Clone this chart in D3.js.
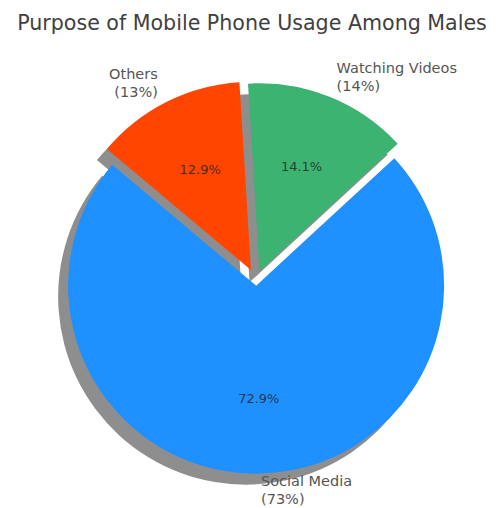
<!DOCTYPE html>
<html lang="en">
<head>
<meta charset="UTF-8">
<title>Purpose of Mobile Phone Usage Among Males</title>
<style>
  body { margin: 0; background: #fff; }
  text { font-family: "DejaVu Sans", sans-serif; }
</style>
</head>
<body>
<div id="chart"></div>
<script src="https://cdn.jsdelivr.net/npm/d3@7"></script>
<script>
// data
var categories = ["Social Media", "Watching Videos", "Others"];
var percentages = [72.9, 14.1, 12.9];
var colors = ["#1E90FF", "#3CB371", "#FF4500"];
var explode = [0.03, 0.05, 0.06];

var width = 502, height = 508,
    cx = 256, cy = 280, R = 188;

// matplotlib startangle=140 (ccw from east) -> d3 angle, going counterclockwise
var start = (90 - 140) * Math.PI / 180;

var svg = d3.select("#chart").append("svg")
  .attr("width", width)
  .attr("height", height);

svg.append("text")
  .attr("x", 252)
  .attr("y", 30)
  .attr("text-anchor", "middle")
  .style("font-size", "20.6px")
  .style("fill", "#404040")
  .text("Purpose of Mobile Phone Usage Among Males");

var pie = d3.pie().sort(null).value(function (d) { return d; })
  .startAngle(start).endAngle(start - 2 * Math.PI);
var arcs = pie(percentages);
var arc = d3.arc().innerRadius(0).outerRadius(R);

// direction of slice bisector, scaled
function along(d, k) {
  var a = (d.startAngle + d.endAngle) / 2;
  return [k * Math.sin(a), -k * Math.cos(a)];
}
function apex(d, i) { return along(d, explode[i] * R); }

// shadows under everything
var shadow = svg.append("g").attr("transform", "translate(" + (cx - 10) + "," + (cy + 11) + ")");
shadow.selectAll("path").data(arcs).enter().append("path")
  .attr("d", arc)
  .attr("transform", function (d, i) { return "translate(" + apex(d, i) + ")"; })
  .style("fill", "#8e8e8e");

var g = svg.append("g").attr("transform", "translate(" + cx + "," + cy + ")");
g.selectAll("path").data(arcs).enter().append("path")
  .attr("d", arc)
  .attr("transform", function (d, i) { return "translate(" + apex(d, i) + ")"; })
  .style("fill", function (d, i) { return colors[i]; });

// percent inside
g.selectAll(".pct").data(arcs).enter().append("text")
  .attr("class", "pct")
  .attr("x", function (d, i) { return apex(d, i)[0] + along(d, 0.6 * R)[0]; })
  .attr("y", function (d, i) { return apex(d, i)[1] + along(d, 0.6 * R)[1]; })
  .attr("dy", "0.35em")
  .attr("text-anchor", "middle")
  .style("font-size", "13px")
  .style("fill", "#222")
  .style("fill-opacity", 0.8)
  .text(function (d) { return d.data.toFixed(1) + "%"; });

// outer labels, two lines
var lab = g.selectAll(".lab").data(arcs).enter().append("text")
  .attr("class", "lab")
  .style("font-size", "14.5px")
  .style("fill", "#555")
  .attr("text-anchor", function (d) { return along(d, 1)[0] >= 0 ? "start" : "end"; })
  .attr("transform", function (d, i) {
    var p = apex(d, i), q = along(d, 1.1 * R);
    return "translate(" + (p[0] + q[0]) + "," + (p[1] + q[1]) + ")";
  });
lab.append("tspan").attr("x", 0).attr("y", -11.5).attr("dy", "0.35em")
  .text(function (d, i) { return categories[i]; });
lab.append("tspan").attr("x", 0).attr("y", 6.5).attr("dy", "0.35em")
  .text(function (d) { return "(" + Math.round(d.data) + "%)"; });
</script>
</body>
</html>
